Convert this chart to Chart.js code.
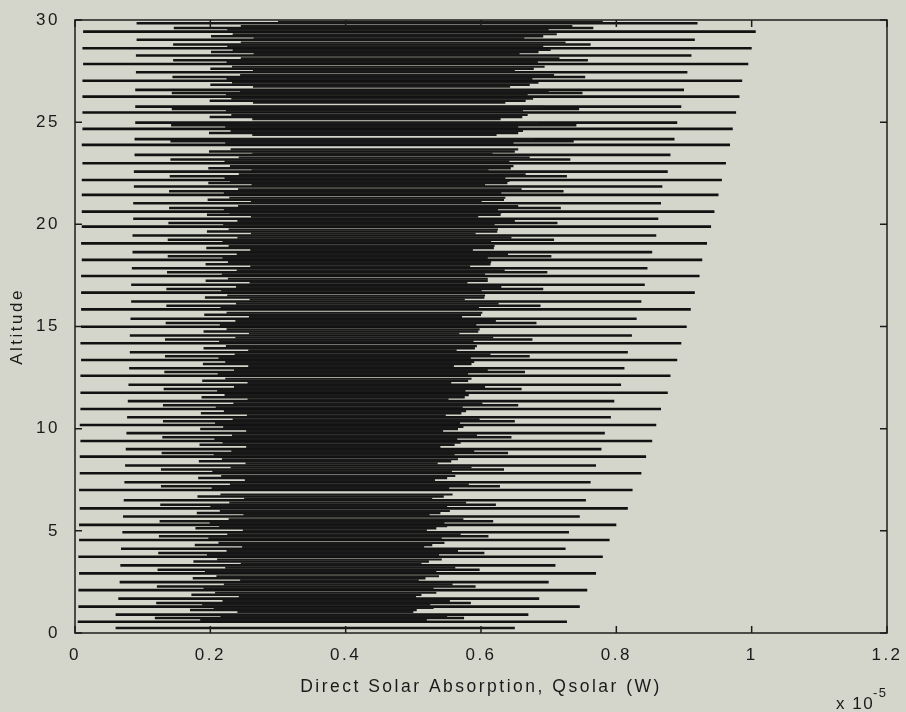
<!DOCTYPE html>
<html>
<head>
<meta charset="utf-8">
<script src="https://cdn.jsdelivr.net/npm/chart.js@4.4.0/dist/chart.umd.min.js"></script>
<style>
  html, body { margin: 0; padding: 0; background: #d5d6cb; }
</style>
</head>
<body>
<canvas id="myChart" width="906" height="712"></canvas>
<script>
// altitude levels and left/right extent (x 1e-5 W) of each horizontal trace, per group
const altA = [0.55, 1.29, 2.10, 2.92, 3.73, 4.55, 5.29, 6.10, 7.00, 7.82, 8.63, 9.40, 10.18, 10.96, 11.76, 12.59, 13.36, 14.18, 14.99, 15.84, 16.66, 17.47, 18.26, 19.07, 19.89, 20.62, 21.44, 22.17, 22.99, 23.89, 24.67, 25.47, 26.25, 27.03, 27.85, 28.62, 29.43];
const leftA = [0.004, 0.005, 0.005, 0.006, 0.005, 0.006, 0.006, 0.007, 0.006, 0.007, 0.007, 0.008, 0.007, 0.008, 0.008, 0.008, 0.009, 0.008, 0.009, 0.009, 0.009, 0.009, 0.010, 0.009, 0.010, 0.010, 0.010, 0.010, 0.011, 0.010, 0.011, 0.011, 0.011, 0.011, 0.012, 0.011, 0.012];
const rightA = [0.727, 0.746, 0.757, 0.770, 0.780, 0.790, 0.800, 0.817, 0.824, 0.837, 0.844, 0.853, 0.859, 0.866, 0.876, 0.880, 0.890, 0.896, 0.904, 0.910, 0.916, 0.923, 0.927, 0.934, 0.940, 0.945, 0.951, 0.956, 0.962, 0.968, 0.972, 0.977, 0.982, 0.986, 0.995, 1.000, 1.006];

const altB = [0.90, 1.68, 2.49, 3.31, 4.12, 4.93, 5.70, 6.50, 7.38, 8.20, 9.00, 9.78, 10.56, 11.35, 12.15, 12.96, 13.74, 14.56, 15.38, 16.22, 17.04, 17.85, 18.64, 19.45, 20.27, 21.03, 21.85, 22.58, 23.40, 24.17, 24.98, 25.76, 26.58, 27.44, 28.26, 29.03, 29.84];
const leftB = [0.060, 0.064, 0.066, 0.067, 0.068, 0.070, 0.071, 0.072, 0.073, 0.074, 0.075, 0.076, 0.077, 0.078, 0.079, 0.080, 0.081, 0.081, 0.082, 0.083, 0.083, 0.084, 0.085, 0.085, 0.086, 0.086, 0.087, 0.087, 0.088, 0.088, 0.089, 0.089, 0.089, 0.090, 0.090, 0.091, 0.091];
const rightB = [0.670, 0.686, 0.700, 0.710, 0.725, 0.730, 0.746, 0.755, 0.762, 0.770, 0.778, 0.783, 0.792, 0.797, 0.807, 0.812, 0.817, 0.823, 0.830, 0.837, 0.842, 0.846, 0.853, 0.859, 0.862, 0.866, 0.868, 0.876, 0.880, 0.886, 0.890, 0.896, 0.900, 0.905, 0.911, 0.916, 0.920];

const altC = [0.73, 1.47, 2.28, 3.10, 3.91, 4.73, 5.47, 6.28, 7.18, 8.00, 8.81, 9.58, 10.36, 11.14, 11.94, 12.77, 13.54, 14.36, 15.17, 16.02, 16.84, 17.65, 18.44, 19.25, 20.07, 20.80, 21.62, 22.35, 23.17, 24.07, 24.85, 25.65, 26.43, 27.21, 28.03, 28.80, 29.61];
const leftC = [0.118, 0.120, 0.121, 0.122, 0.123, 0.124, 0.125, 0.126, 0.127, 0.127, 0.128, 0.129, 0.130, 0.130, 0.131, 0.132, 0.133, 0.133, 0.134, 0.135, 0.135, 0.136, 0.137, 0.137, 0.138, 0.139, 0.139, 0.140, 0.141, 0.141, 0.142, 0.143, 0.143, 0.144, 0.145, 0.145, 0.146];
const rightC = [0.575, 0.585, 0.592, 0.598, 0.605, 0.611, 0.618, 0.622, 0.628, 0.634, 0.640, 0.645, 0.650, 0.655, 0.660, 0.665, 0.672, 0.676, 0.682, 0.688, 0.692, 0.698, 0.704, 0.708, 0.713, 0.718, 0.722, 0.727, 0.732, 0.737, 0.741, 0.745, 0.750, 0.754, 0.758, 0.762, 0.766];

const altD = [0.25, 1.13, 1.87, 2.68, 3.50, 4.31, 5.13, 5.87, 6.68, 7.58, 8.40, 9.21, 9.98, 10.76, 11.54, 12.34, 13.17, 13.94, 14.76, 15.57, 16.42, 17.24, 18.05, 18.84, 19.65, 20.47, 21.20, 22.02, 22.75, 23.57, 24.47, 25.25, 26.05, 26.83, 27.61, 28.43, 29.20];
const leftD = [0.060, 0.170, 0.172, 0.174, 0.175, 0.177, 0.178, 0.180, 0.181, 0.182, 0.183, 0.184, 0.185, 0.186, 0.187, 0.188, 0.189, 0.190, 0.190, 0.191, 0.192, 0.193, 0.193, 0.194, 0.195, 0.195, 0.196, 0.197, 0.197, 0.198, 0.198, 0.199, 0.199, 0.200, 0.200, 0.201, 0.201];
const rightD = [0.650, 0.505, 0.512, 0.518, 0.523, 0.528, 0.534, 0.540, 0.545, 0.550, 0.556, 0.561, 0.566, 0.571, 0.576, 0.581, 0.586, 0.591, 0.596, 0.600, 0.605, 0.610, 0.614, 0.619, 0.624, 0.629, 0.634, 0.639, 0.644, 0.650, 0.655, 0.661, 0.666, 0.672, 0.678, 0.685, 0.692];

// inner traces that make up the dark core
const altE = [0.64, 1.38, 2.19, 3.01, 3.82, 4.64, 5.38, 6.19, 7.09, 7.91, 8.72, 9.49, 10.27, 11.05, 11.85, 12.68, 13.45, 14.27, 15.08, 15.93, 16.75, 17.56, 18.35, 19.16, 19.98, 20.71, 21.53, 22.26, 23.08, 23.98, 24.76, 25.56, 26.34, 27.12, 27.94, 28.71, 29.52];
const leftE = [0.185, 0.188, 0.190, 0.192, 0.195, 0.197, 0.199, 0.200, 0.202, 0.203, 0.205, 0.206, 0.207, 0.208, 0.210, 0.211, 0.212, 0.213, 0.214, 0.215, 0.216, 0.217, 0.218, 0.218, 0.219, 0.220, 0.220, 0.221, 0.221, 0.222, 0.222, 0.223, 0.223, 0.224, 0.224, 0.225, 0.225];
const rightE = [0.520, 0.525, 0.530, 0.534, 0.538, 0.542, 0.546, 0.550, 0.553, 0.557, 0.561, 0.565, 0.569, 0.573, 0.577, 0.581, 0.585, 0.589, 0.593, 0.597, 0.601, 0.606, 0.610, 0.615, 0.620, 0.625, 0.630, 0.636, 0.642, 0.648, 0.655, 0.662, 0.669, 0.676, 0.684, 0.692, 0.700];

const altF = [0.83, 1.57, 2.38, 3.20, 4.01, 4.83, 5.57, 6.38, 7.28, 8.10, 8.91, 9.68, 10.46, 11.24, 12.04, 12.87, 13.64, 14.46, 15.27, 16.12, 16.94, 17.75, 18.54, 19.35, 20.17, 20.90, 21.72, 22.45, 23.27, 24.17, 24.95, 25.75, 26.53, 27.31, 28.13, 28.90, 29.71];
const leftF = [0.215, 0.218, 0.220, 0.222, 0.224, 0.225, 0.227, 0.228, 0.229, 0.230, 0.231, 0.232, 0.233, 0.234, 0.235, 0.235, 0.236, 0.237, 0.237, 0.238, 0.238, 0.239, 0.239, 0.240, 0.240, 0.241, 0.241, 0.242, 0.242, 0.243, 0.243, 0.243, 0.244, 0.244, 0.245, 0.245, 0.245];
const rightF = [0.550, 0.554, 0.558, 0.562, 0.566, 0.570, 0.574, 0.578, 0.582, 0.586, 0.590, 0.594, 0.598, 0.602, 0.606, 0.610, 0.614, 0.618, 0.622, 0.626, 0.630, 0.635, 0.640, 0.645, 0.650, 0.655, 0.660, 0.666, 0.672, 0.678, 0.685, 0.692, 0.700, 0.708, 0.716, 0.725, 0.735];

const altG = [1.03, 1.77, 2.58, 3.40, 4.21, 5.03, 5.77, 6.58, 7.48, 8.30, 9.11, 9.88, 10.66, 11.44, 12.24, 13.07, 13.84, 14.66, 15.47, 16.32, 17.14, 17.95, 18.74, 19.55, 20.37, 21.10, 21.92, 22.65, 23.47, 24.37, 25.15, 25.95, 26.73, 27.51, 28.33, 29.10, 29.91];
const leftG = [0.240, 0.242, 0.244, 0.245, 0.247, 0.248, 0.249, 0.250, 0.251, 0.252, 0.253, 0.253, 0.254, 0.255, 0.255, 0.256, 0.256, 0.257, 0.257, 0.258, 0.258, 0.259, 0.259, 0.260, 0.260, 0.260, 0.261, 0.261, 0.262, 0.262, 0.262, 0.263, 0.263, 0.263, 0.264, 0.264, 0.300];
const rightG = [0.500, 0.504, 0.508, 0.512, 0.516, 0.520, 0.524, 0.528, 0.532, 0.536, 0.540, 0.544, 0.548, 0.552, 0.556, 0.560, 0.564, 0.568, 0.572, 0.576, 0.580, 0.584, 0.588, 0.592, 0.596, 0.601, 0.606, 0.611, 0.617, 0.623, 0.629, 0.636, 0.643, 0.650, 0.657, 0.664, 0.780];

const altH = [1.23, 1.97, 2.78, 3.60, 4.41, 5.23, 5.97, 6.78, 7.68, 8.50, 9.31, 10.08, 10.86, 11.64, 12.44, 13.27, 14.04, 14.86, 15.67, 16.52, 17.34, 18.15, 18.94, 19.75, 20.57, 21.30, 22.12, 22.85, 23.67, 24.57, 25.35, 26.15, 26.93, 27.71, 28.53, 29.30];
const leftH = [0.205, 0.207, 0.209, 0.210, 0.212, 0.213, 0.214, 0.215, 0.216, 0.217, 0.218, 0.219, 0.220, 0.221, 0.222, 0.222, 0.223, 0.224, 0.224, 0.225, 0.226, 0.226, 0.227, 0.227, 0.228, 0.228, 0.229, 0.229, 0.230, 0.230, 0.231, 0.231, 0.232, 0.232, 0.233, 0.233];
const rightH = [0.530, 0.534, 0.538, 0.542, 0.546, 0.550, 0.554, 0.558, 0.562, 0.566, 0.570, 0.574, 0.578, 0.582, 0.586, 0.590, 0.594, 0.598, 0.602, 0.606, 0.610, 0.615, 0.620, 0.625, 0.630, 0.636, 0.642, 0.648, 0.655, 0.662, 0.669, 0.677, 0.685, 0.694, 0.703, 0.712];

const xTicks = [0, 0.2, 0.4, 0.6, 0.8, 1, 1.2];
const yTicks = [0, 5, 10, 15, 20, 25, 30];

const FONT = '"Liberation Sans", Arial, sans-serif';

// each level becomes a horizontal trace, broken from the next by a gap
function traces(alts, lefts, rights) {
  let pts = [];
  for (let i = 0; i < alts.length; i++) {
    pts.push({ x: lefts[i], y: alts[i] });
    pts.push({ x: rights[i], y: alts[i] });
    pts.push({ x: lefts[i], y: null });
  }
  return pts;
}

function lineSet(data, color, width) {
  return {
    data: data,
    borderColor: color,
    borderWidth: width,
    pointRadius: 0,
    showLine: true,
    spanGaps: false,
    fill: false
  };
}

// wide letter spacing like the scanned original
const spacing = {
  id: 'spacing',
  beforeUpdate(chart) { chart.ctx.letterSpacing = '2.5px'; },
  beforeDraw(chart) { chart.ctx.letterSpacing = '2.5px'; }
};

const frame = {
  id: 'frame',
  afterDatasetsDraw(chart) {
    const { ctx, chartArea: a, scales: { x, y } } = chart;
    ctx.save();
    ctx.strokeStyle = '#1c1c1c';
    ctx.lineWidth = 1.5;
    ctx.strokeRect(a.left, a.top, a.right - a.left, a.bottom - a.top);
    ctx.beginPath();
    xTicks.forEach(v => {
      let px = x.getPixelForValue(v);
      ctx.moveTo(px, a.bottom); ctx.lineTo(px, a.bottom - 7);
      ctx.moveTo(px, a.top); ctx.lineTo(px, a.top + 7);
    });
    yTicks.forEach(v => {
      let py = y.getPixelForValue(v);
      ctx.moveTo(a.left, py); ctx.lineTo(a.left + 7, py);
      ctx.moveTo(a.right, py); ctx.lineTo(a.right - 7, py);
    });
    ctx.stroke();
    // exponent label
    ctx.fillStyle = '#1a1a1a';
    ctx.textBaseline = 'alphabetic';
    ctx.letterSpacing = '1.5px';
    ctx.font = '17px ' + FONT;
    ctx.fillText('x 10', a.right - 51, 709);
    ctx.font = '13px ' + FONT;
    ctx.fillText('-5', a.right - 14, 697);
    ctx.restore();
  }
};

let ctx = document.getElementById("myChart").getContext("2d");
let myChart = new Chart(ctx, {
  type: "scatter",
  data: {
    datasets: [
      lineSet(traces(altG, leftG, rightG), "#1a1a1a", 2.1),
      lineSet(traces(altH, leftH, rightH), "#1a1a1a", 2.1),
      lineSet(traces(altF, leftF, rightF), "#1a1a1a", 2.1),
      lineSet(traces(altE, leftE, rightE), "#1a1a1a", 2.1),
      lineSet(traces(altD, leftD, rightD), "#161616", 2.5),
      lineSet(traces(altC, leftC, rightC), "#161616", 2.5),
      lineSet(traces(altB, leftB, rightB), "#141414", 2.6),
      lineSet(traces(altA, leftA, rightA), "#111111", 2.6)
    ]
  },
  options: {
    responsive: false,
    animation: false,
    layout: { padding: { top: 20, right: 19, left: 0, bottom: 0 } },
    plugins: { legend: { display: false }, tooltip: { enabled: false } },
    scales: {
      x: {
        type: "linear",
        min: 0,
        max: 1.2,
        afterBuildTicks: (s) => { s.ticks = xTicks.map(v => ({ value: v })); },
        afterFit: (s) => { s.height = 79; s.paddingLeft = 0; s.paddingRight = 0; },
        grid: { display: false, drawTicks: false },
        border: { display: false },
        ticks: {
          color: "#1a1a1a",
          padding: 12,
          maxRotation: 0,
          font: { family: FONT, size: 17 },
          callback: (v) => String(Math.round(v * 10) / 10)
        },
        title: {
          display: true,
          text: "Direct Solar Absorption, Qsolar (W)",
          color: "#1a1a1a",
          padding: { top: 0, bottom: 14 },
          font: { family: FONT, size: 17.5 }
        }
      },
      y: {
        type: "linear",
        min: 0,
        max: 30,
        afterBuildTicks: (s) => { s.ticks = yTicks.map(v => ({ value: v })); },
        afterFit: (s) => { s.width = 75; s.paddingTop = 0; s.paddingBottom = 0; },
        grid: { display: false, drawTicks: false },
        border: { display: false },
        ticks: {
          color: "#1a1a1a",
          padding: 15,
          font: { family: FONT, size: 17 }
        },
        title: {
          display: true,
          text: "Altitude",
          color: "#1a1a1a",
          padding: { top: 7, bottom: 0 },
          font: { family: FONT, size: 17 }
        }
      }
    }
  },
  plugins: [spacing, frame]
});
</script>
</body>
</html>
